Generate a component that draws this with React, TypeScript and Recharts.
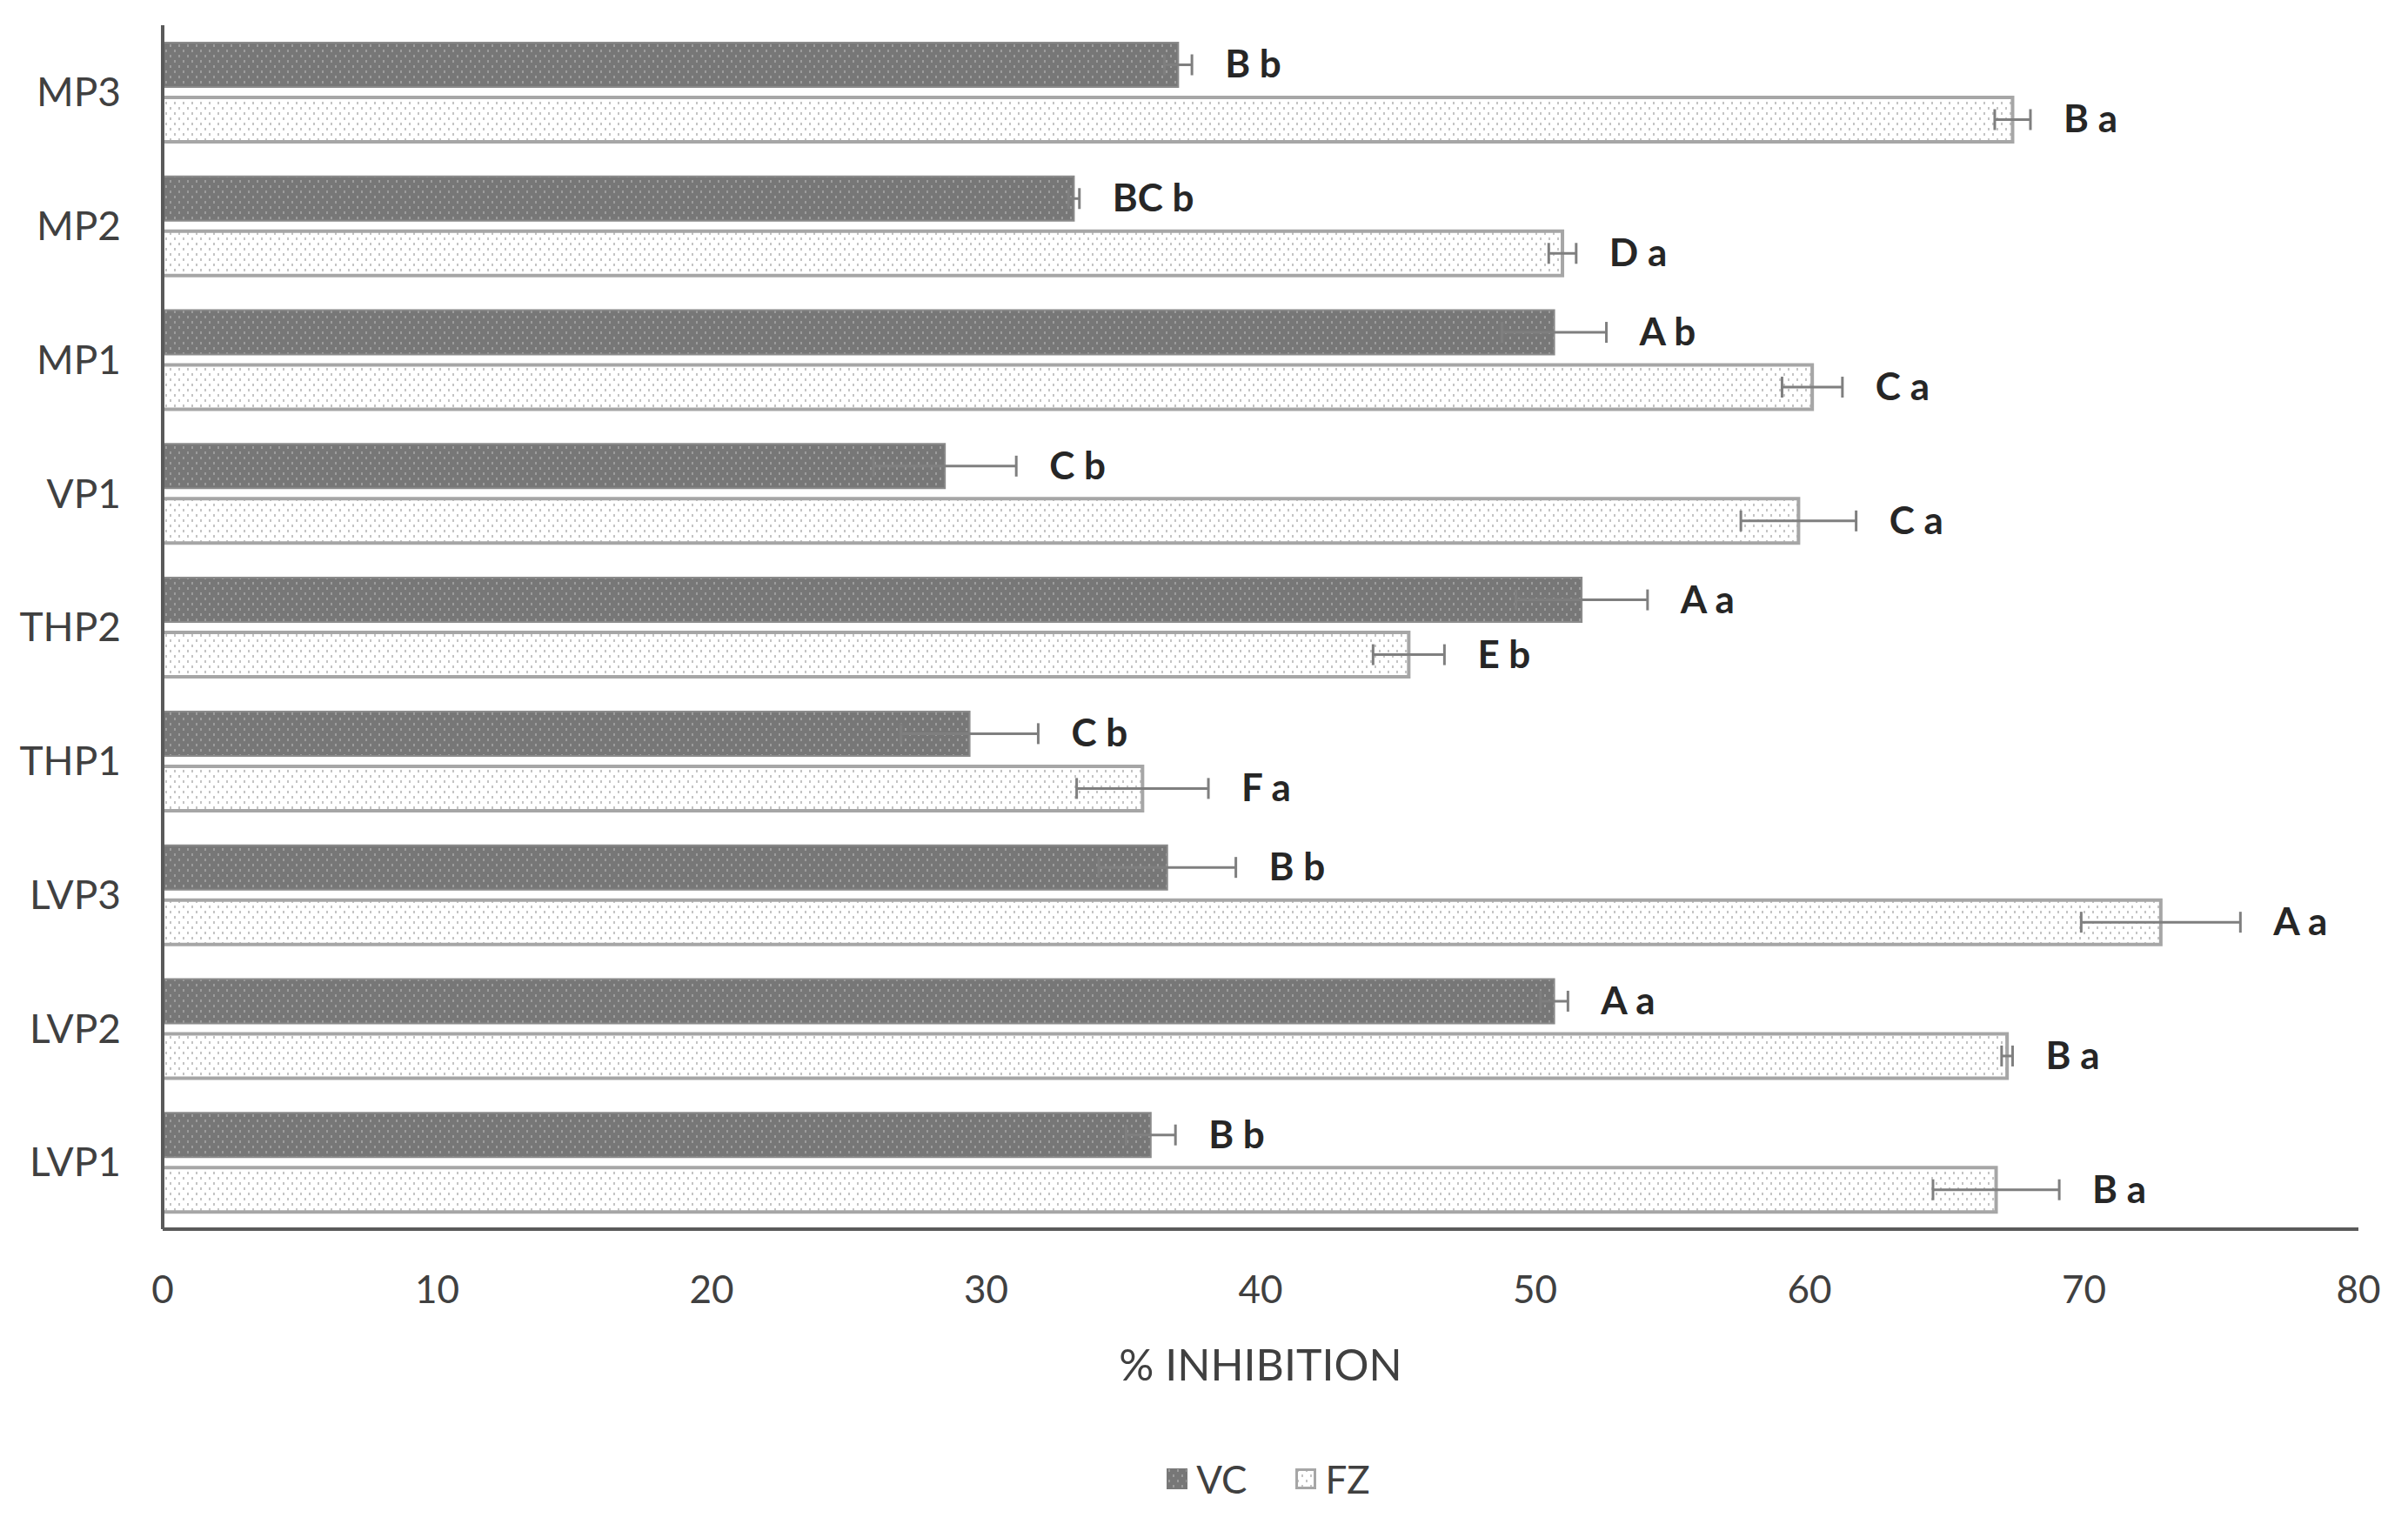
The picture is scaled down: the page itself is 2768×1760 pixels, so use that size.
import React from 'react';
import { BarChart, Bar, XAxis, YAxis, ErrorBar, LabelList, Legend, Label } from 'recharts';

const categories = ['MP3', 'MP2', 'MP1', 'VP1', 'THP2', 'THP1', 'LVP3', 'LVP2', 'LVP1'];
const vcValues = [37.0, 33.2, 50.7, 28.5, 51.7, 29.4, 36.6, 50.7, 36.0];
const vcErrors = [0.5, 0.2, 1.9, 2.6, 2.4, 2.5, 2.5, 0.5, 0.9];
const fzValues = [67.4, 51.0, 60.1, 59.6, 45.4, 35.7, 72.8, 67.2, 66.8];
const fzErrors = [0.65, 0.5, 1.1, 2.1, 1.3, 2.4, 2.9, 0.2, 2.3];
const vcLetters = ['B b', 'BC b', 'A b', 'C b', 'A a', 'C b', 'B b', 'A a', 'B b'];
const fzLetters = ['B a', 'D a', 'C a', 'C a', 'E b', 'F a', 'A a', 'B a', 'B a'];
const xTicks = [0, 10, 20, 30, 40, 50, 60, 70, 80];

const data = categories.map((name, i) => ({
    name,
    VC: vcValues[i],
    VCerr: vcErrors[i],
    FZ: fzValues[i],
    FZerr: fzErrors[i],
}));

const FONT = 'Lato, "Open Sans", sans-serif';

// letters sit just right of the error bar whisker
const makeLetterLabel = (letters: string[], errors: number[]) => (props: any) => {
    const { x, y, width, height, index, value } = props;
    const pxPerUnit = value ? width / value : 0;
    const tx = x + width + errors[index] * pxPerUnit + 38;
    return (
        <text
            x={tx}
            y={y + height / 2 - 2}
            dominantBaseline="central"
            fontFamily={FONT}
            fontWeight={700}
            fontSize={44}
            fill="#262626"
            style={{ whiteSpace: 'pre' }}
        >
            {letters[index]}
        </text>
    );
};

const LegendContent = () => (
    <div
        style={{
            width: 2752,
            height: 90,
            paddingLeft: 148,
            paddingTop: 20,
            boxSizing: 'border-box',
            display: 'flex',
            justifyContent: 'center',
            alignItems: 'flex-start',
            fontFamily: FONT,
            fontSize: 44,
            color: '#404040',
        }}
    >
        <div style={{ display: 'flex', alignItems: 'center', height: 36, marginRight: 56 }}>
            <svg width={24} height={24} style={{ marginRight: 10 }}>
                <rect x={0} y={0} width={24} height={24} fill="url(#vcPat)" stroke="#7a7a7a" strokeWidth={2} />
            </svg>
            VC
        </div>
        <div style={{ display: 'flex', alignItems: 'center', height: 36 }}>
            <svg width={24} height={24} style={{ marginRight: 10 }}>
                <rect x={1.5} y={1.5} width={21} height={21} fill="url(#fzPat)" stroke="#a6a6a6" strokeWidth={3} />
            </svg>
            FZ
        </div>
    </div>
);

const App: React.FC = () => {
    return (
        <BarChart
            width={2752}
            height={1744}
            data={data}
            layout="vertical"
            margin={{ top: 21, right: 49, bottom: 0, left: 0 }}
            barCategoryGap="13%"
            barGap={12}
        >
            <defs>
                <pattern id="vcPat" width="10" height="12" patternUnits="userSpaceOnUse">
                    <rect width="10" height="12" fill="#777777" />
                    <rect x="2" y="1" width="2" height="3" fill="#9c9c9c" />
                    <rect x="7" y="7" width="2" height="3" fill="#9c9c9c" />
                </pattern>
                <pattern id="fzPat" width="10" height="12" patternUnits="userSpaceOnUse">
                    <rect width="10" height="12" fill="#ffffff" />
                    <rect x="2" y="1" width="2" height="3" fill="#c4c4c4" />
                    <rect x="7" y="7" width="2" height="3" fill="#c4c4c4" />
                </pattern>
            </defs>
            <XAxis
                type="number"
                domain={[0, 80]}
                ticks={xTicks}
                interval={0}
                height={249}
                axisLine={{ stroke: '#5a5a5a', strokeWidth: 4 }}
                tickLine={false}
                tickSize={0}
                tickMargin={54}
                tick={{ fontFamily: FONT, fontSize: 44, fill: '#404040' }}
            >
                <Label
                    value="% INHIBITION"
                    position="insideBottom"
                    offset={75}
                    style={{ fontFamily: FONT, fontSize: 50, fill: '#404040' }}
                />
            </XAxis>
            <YAxis
                type="category"
                dataKey="name"
                width={179}
                axisLine={{ stroke: '#5a5a5a', strokeWidth: 4 }}
                tickLine={false}
                tickSize={0}
                tickMargin={48}
                tick={{ fontFamily: FONT, fontSize: 46, fill: '#404040' }}
            />
            <Legend verticalAlign="bottom" wrapperStyle={{ left: 0, width: 2752 }} content={LegendContent} />
            <Bar dataKey="VC" fill="url(#vcPat)" stroke="#8a8a8a" strokeWidth={2} isAnimationActive={false} legendType="square">
                <ErrorBar dataKey="VCerr" direction="x" width={12} stroke="#7f7f7f" strokeWidth={3} />
                <LabelList dataKey="VC" content={makeLetterLabel(vcLetters, vcErrors)} />
            </Bar>
            <Bar dataKey="FZ" fill="url(#fzPat)" stroke="#a6a6a6" strokeWidth={4} isAnimationActive={false} legendType="square">
                <ErrorBar dataKey="FZerr" direction="x" width={12} stroke="#7f7f7f" strokeWidth={3} />
                <LabelList dataKey="FZ" content={makeLetterLabel(fzLetters, fzErrors)} />
            </Bar>
        </BarChart>
    );
};

export default App;
